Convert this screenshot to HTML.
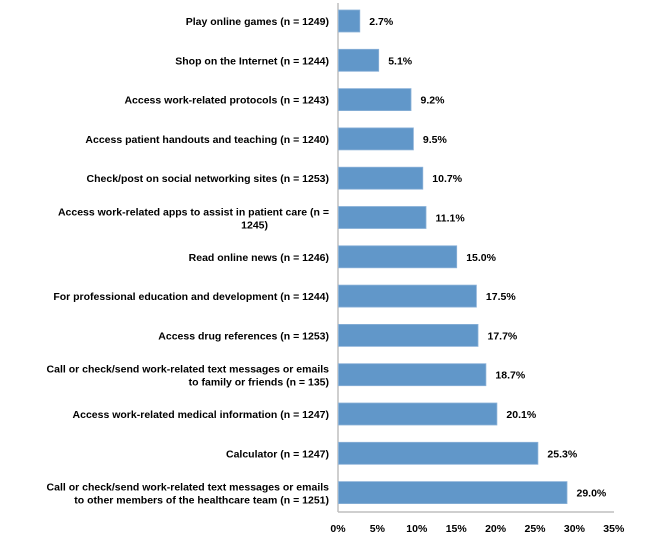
<!DOCTYPE html>
<html><head><meta charset="utf-8"><style>
body{margin:0;background:#fff;width:663px;height:549px;overflow:hidden}
svg text{font-family:"Liberation Sans",sans-serif;font-weight:bold;font-size:10.5px;fill:#000}
rect{fill:#6197c9;stroke:#8ab1d8;stroke-width:0.8}
</style></head><body>
<svg width="663" height="549" xmlns="http://www.w3.org/2000/svg">
<line x1="338" y1="3" x2="338" y2="512" stroke="#bfbfbf" stroke-width="1.5"/>
<line x1="338" y1="512" x2="614" y2="512" stroke="#bfbfbf" stroke-width="1.5"/>
<rect x="338.5" y="10" width="21.3" height="22"/>
<rect x="338.5" y="49.3" width="40.2" height="22"/>
<rect x="338.5" y="88.6" width="72.5" height="22"/>
<rect x="338.5" y="127.9" width="74.9" height="22"/>
<rect x="338.5" y="167.2" width="84.3" height="22"/>
<rect x="338.5" y="206.5" width="87.5" height="22"/>
<rect x="338.5" y="245.8" width="118.2" height="22"/>
<rect x="338.5" y="285.1" width="137.9" height="22"/>
<rect x="338.5" y="324.4" width="139.5" height="22"/>
<rect x="338.5" y="363.7" width="147.4" height="22"/>
<rect x="338.5" y="403" width="158.4" height="22"/>
<rect x="338.5" y="442.3" width="199.4" height="22"/>
<rect x="338.5" y="481.6" width="228.5" height="22"/>
<g>
<text x="369.3" y="25">2.7%</text>
<text x="388.2" y="64.3">5.1%</text>
<text x="420.5" y="103.6">9.2%</text>
<text x="422.9" y="142.9">9.5%</text>
<text x="432.3" y="182.2">10.7%</text>
<text x="435.5" y="221.5">11.1%</text>
<text x="466.2" y="260.8">15.0%</text>
<text x="485.9" y="300.1">17.5%</text>
<text x="487.5" y="339.4">17.7%</text>
<text x="495.4" y="378.7">18.7%</text>
<text x="506.4" y="418">20.1%</text>
<text x="547.4" y="457.3">25.3%</text>
<text x="576.5" y="496.6">29.0%</text>
</g>
<g text-anchor="end">
<text x="329" y="25">Play online games (n = 1249)</text>
<text x="329" y="64.3">Shop on the Internet (n = 1244)</text>
<text x="329" y="103.6">Access work-related protocols (n = 1243)</text>
<text x="329" y="142.9">Access patient handouts and teaching (n = 1240)</text>
<text x="329" y="182.2">Check/post on social networking sites (n = 1253)</text>
<text x="329" y="215.5">Access work-related apps to assist in patient care (n =</text>
<text x="268" y="228.5">1245)</text>
<text x="329" y="260.8">Read online news (n = 1246)</text>
<text x="329" y="300.1">For professional education and development (n = 1244)</text>
<text x="329" y="339.4">Access drug references (n = 1253)</text>
<text x="329" y="372.7">Call or check/send work-related text messages or emails</text>
<text x="329" y="385.7">to family or friends (n = 135)</text>
<text x="329" y="418">Access work-related medical information (n = 1247)</text>
<text x="329" y="457.3">Calculator (n = 1247)</text>
<text x="329" y="490.6">Call or check/send work-related text messages or emails</text>
<text x="329" y="503.6">to other members of the healthcare team (n = 1251)</text>
</g>
<g text-anchor="middle">
<text x="338" y="532">0%</text><text x="377.4" y="532">5%</text><text x="416.8" y="532">10%</text><text x="456.2" y="532">15%</text><text x="495.6" y="532">20%</text><text x="535" y="532">25%</text><text x="574.4" y="532">30%</text><text x="613.8" y="532">35%</text>
</g>
</svg>
</body></html>
